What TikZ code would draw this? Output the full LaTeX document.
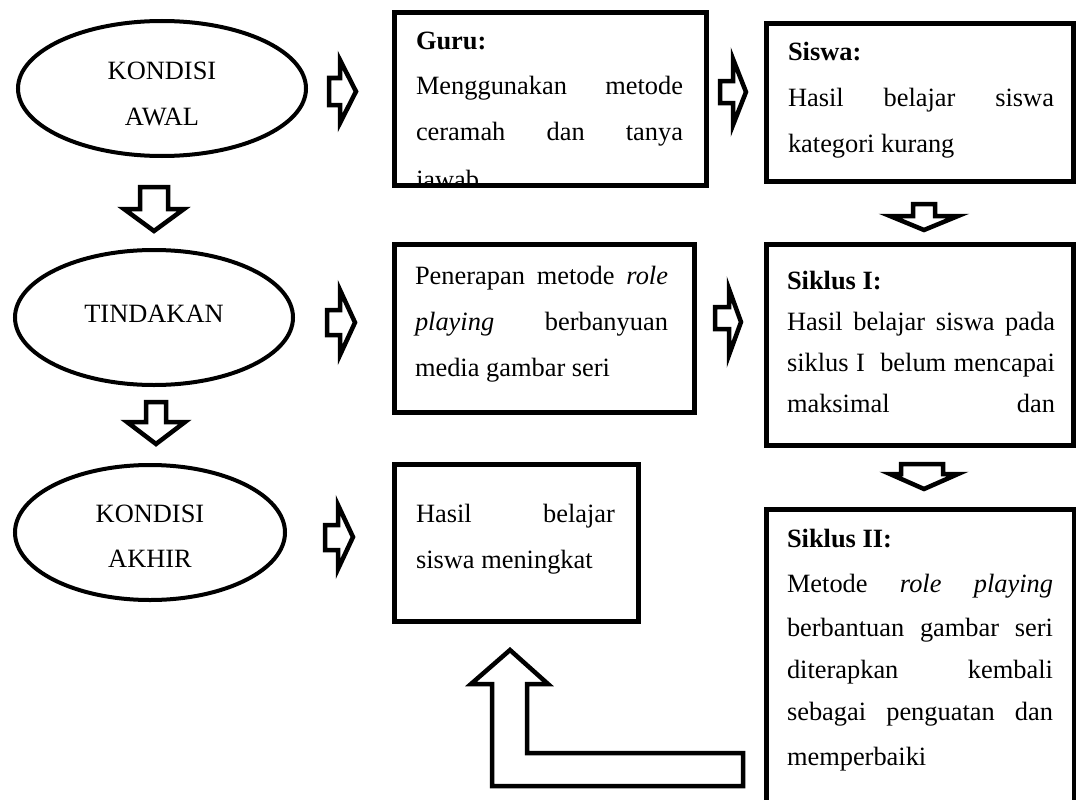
\documentclass[tikz,border=0pt]{standalone}
\usepackage{fontspec}
\setmainfont{Liberation Serif}
\usetikzlibrary{shapes.geometric}
\newcommand{\jl}[2]{\makebox[#1pt][s]{#2}}
\begin{document}
\begin{tikzpicture}[x=1pt,y=-1pt,
  txt/.style={anchor=base west,inner sep=0pt,outer sep=0pt,font=\fontsize{26.4}{30}\selectfont},
  ctxt/.style={anchor=base,inner sep=0pt,outer sep=0pt,font=\fontsize{26.4}{30}\selectfont},
  boxline/.style={draw=black,line width=5pt,inner sep=0pt,outer sep=0pt},
  ell/.style={draw=black,line width=4pt,ellipse,inner sep=0pt,outer sep=0pt,minimum height=135pt},
  blk/.style={draw=black,line width=4.5pt,line join=miter,miter limit=10,fill=white}]
\useasboundingbox (0,0) rectangle (1076,800);

% ellipses
\node[ell,minimum width=288pt] (e1) at (162,88.5) {};
\node[ell,minimum width=278pt] (e2) at (154,317.5) {};
\node[ell,minimum width=270pt] (e3) at (150,532.5) {};
\node[ctxt] (e1a) at (162,80) {KONDISI};
\node[ctxt] (e1b) at (162,125) {AWAL};
\node[ctxt] (e2a) at (154,322) {TINDAKAN};
\node[ctxt] (e3a) at (150,522) {KONDISI};
\node[ctxt] (e3b) at (150,567) {AKHIR};

% Guru box text (clipped)
\begin{scope}
\clip (394,12.5) rectangle (706,182.5);
\node[txt] (g1) at (416,50) {\textbf{Guru:}};
\node[txt] (g2) at (416,95) {\jl{267}{Menggunakan metode}};
\node[txt] (g3) at (416,140) {\jl{267}{ceramah dan tanya}};
\node[txt] (g4) at (416,188) {jawab};
\end{scope}
\node[boxline,minimum width=312pt,minimum height=172.5pt] (guru) at (550,98.75) {};

% Siswa
\node[txt] (s1) at (788,60) {\textbf{Siswa:}};
\node[txt] (s2) at (788,106) {\jl{266}{Hasil belajar siswa}};
\node[txt] (s3) at (788,152) {kategori kurang};
\node[boxline,minimum width=307pt,minimum height=157pt] (siswa) at (919.5,102.5) {};

% Penerapan
\node[txt] (p1) at (415,284) {\jl{253}{Penerapan metode \textit{role}}};
\node[txt] (p2) at (415,330) {\jl{253}{\textit{playing} berbanyuan}};
\node[txt] (p3) at (415,376) {media gambar seri};
\node[boxline,minimum width=300pt,minimum height=168pt] (pen) at (544,328) {};

% Siklus I
\node[txt] (k1) at (787,289) {\textbf{Siklus I:}};
\node[txt] (k2) at (787,330) {\jl{268}{Hasil belajar siswa pada}};
\node[txt] (k3) at (787,371) {\jl{268}{siklus I \ belum mencapai}};
\node[txt] (k4) at (787,412) {\jl{268}{maksimal dan}};
\node[boxline,minimum width=307pt,minimum height=201pt] (sik1) at (919.5,344.5) {};

% Siklus II
\node[txt] (m1) at (787,547) {\textbf{Siklus II:}};
\node[txt] (m2) at (787,592) {\jl{266}{Metode \textit{role} \textit{playing}}};
\node[txt] (m3) at (787,636) {\jl{266}{berbantuan gambar seri}};
\node[txt] (m4) at (787,678) {\jl{266}{diterapkan kembali}};
\node[txt] (m5) at (787,720) {\jl{266}{sebagai penguatan dan}};
\node[txt] (m6) at (787,765) {memperbaiki};
\node[boxline,minimum width=308pt,minimum height=321pt] (sik2) at (920,669.5) {};

% Hasil
\node[txt] (h1) at (416,522) {\jl{199}{Hasil belajar}};
\node[txt] (h2) at (416,568) {siswa meningkat};
\node[boxline,minimum width=244pt,minimum height=157pt] (hasil) at (516,542.5) {};

% down block arrows (left column)
\draw[blk] (140,187) -- (168,187) -- (168,209) -- (184,209) -- (154,231) -- (124,209) -- (140,209) -- cycle;
\draw[blk] (146,402) -- (166,402) -- (166,422) -- (185,422) -- (156,444) -- (127,422) -- (146,422) -- cycle;

% right block arrows
\draw[blk] (329,78) -- (340,78) -- (340,60) -- (356,91.5) -- (340,123) -- (340,105) -- (329,105) -- cycle;
\draw[blk] (720,81) -- (733,81) -- (733,59) -- (746,92) -- (733,125) -- (733,103) -- (720,103) -- cycle;
\draw[blk] (327,310) -- (340,310) -- (340,290) -- (355,322.5) -- (340,355) -- (340,335) -- (327,335) -- cycle;
\draw[blk] (715,307) -- (729,307) -- (729,289) -- (741,322) -- (729,355) -- (729,329) -- (715,329) -- cycle;
\draw[blk] (325,525) -- (338,525) -- (338,505) -- (353,537) -- (338,569) -- (338,550) -- (325,550) -- cycle;

% down block arrows (right column)
\draw[blk] (913,204) -- (935,204) -- (935,216) -- (958,216) -- (924,230) -- (890,216) -- (913,216) -- cycle;
\draw[blk] (901,464) -- (943,464) -- (943,474) -- (958,474) -- (924,489) -- (890,474) -- (901,474) -- cycle;

% bent arrow
\draw[blk] (510,650) -- (548,684) -- (527,684) -- (527,753) -- (743,753) -- (743,786) -- (492,786) -- (492,684) -- (471,684) -- cycle;
\end{tikzpicture}
\end{document}
